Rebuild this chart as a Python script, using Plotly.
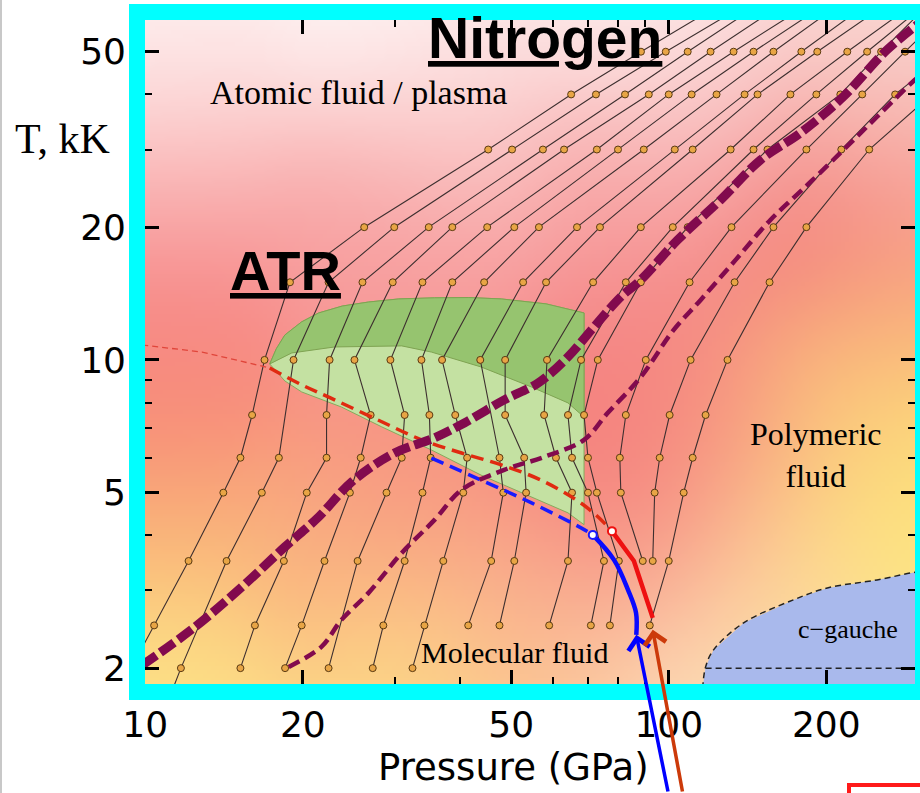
import math
import base64
import struct
import zlib

import numpy as np
import plotly.graph_objects as go

# ---------------------------------------------------------------- geometry
FIG_W, FIG_H = 920, 793
M_L, M_R, M_T, M_B = 145, 5, 20, 109
PLOT_W = FIG_W - M_L - M_R
PLOT_H = FIG_H - M_T - M_B

P_RANGE = (9.99, 295.4)      # GPa
T_RANGE = (1.841, 59.0)      # kK

# ---------------------------------------------------------------- data
# Simulated isochores: temperature (kK) and pressure (GPa) of each state point
ISO0_T = [62, 50, 40, 30, 20, 15, 10, 7.5, 6, 5, 3.5, 2.5, 2.0]
ISO0_P = [120, 88.5, 65.1, 45.2, 26.2, 18.9, 16.9, 16.0, 15.2, 14.1, 12.1, 10.4, 9.4]

ISO1_T = [62, 50, 40, 30, 20, 15, 10, 6, 5, 3.5, 2.0, 1.75]
ISO1_P = [134, 98.7, 72.6, 50.2, 29.9, 22.4, 19.2, 18.0, 16.7, 14.3, 11.7, 11.2]

ISO2_T = [62, 50, 40, 30, 20, 15, 10, 7.5, 6, 5, 3.5, 2.5, 2.0]
ISO2_P = [143, 108.7, 82.5, 57.5, 34.8, 26.0, 22.5, 22.2, 22.2, 20.35, 18.4, 16.2, 15.2]

ISO3_T = [62, 50, 40, 30, 20, 15, 10, 7.5, 6, 5, 3.5, 2.5, 2.0]
ISO3_P = [158, 120.2, 91.6, 63.1, 38.6, 29.7, 25.1, 26.95, 25.8, 24.6, 22.0, 19.9, 18.5]

ISO4_T = [62, 50, 40, 30, 20, 15, 10, 7.5, 6, 5, 3.5, 2.0]
ISO4_P = [177, 133, 100, 72.9, 45.0, 33.85, 29.4, 31.3, 30.9, 28.9, 25.45, 22.4]

ISO5_T = [62, 50, 40, 30, 20, 15, 10, 7.5, 6, 5, 3.5, 2.5, 2.0]
ISO5_P = [191, 145.2, 110.6, 80.0, 50.7, 38.6, 33.7, 34.9, 35.1, 33.85, 31.3, 28.5, 27.2]

ISO6_T = [62, 50, 40, 30, 20, 15, 10, 7.5, 6, 5, 3.5, 2.5, 2.0]
ISO6_P = [204, 158.5, 123.4, 89.6, 56.5, 44.4, 36.9, 39.1, 41.2, 40.5, 37.1, 34.15, 32.4]

ISO7_T = [62, 50, 40, 30, 20, 15, 10, 6, 5, 3.5, 2.5]
ISO7_P = [230, 179.2, 139.6, 102.7, 66.8, 52.7, 43.65, 47.5, 48.3, 45.8, 41.4]

ISO8_T = [62, 50, 40, 30, 20, 15, 10, 7.5, 6, 5, 3.5, 2.5]
ISO8_P = [250, 192.2, 147.8, 111.1, 73.9, 58.3, 48.7, 48.7, 52.95, 53.4, 50.7, 47.5]

ISO9_T = [62, 50, 40, 30, 20, 15, 10, 7.5, 6, 5, 3.5, 2.5]
ISO9_P = [282, 219.3, 170.8, 131.3, 88.45, 71.7, 58.55, 57.8, 60.9, 65.35, 64.2, 59.1]

ISO10_T = [62, 50, 40, 30, 20, 15, 10, 7.5, 6, 5, 3.5, 2.5]
ISO10_P = [299, 239.3, 191.4, 145.2, 101.8, 82.8, 68.0, 64.2, 65.35, 70.1, 75.2, 71.0]

ISO11_T = [62, 50, 40, 30, 20, 15, 10, 7.5, 6, 5, 3.5, 2.5]
ISO11_P = [305, 254.5, 212.7, 154.4, 108.7, 88.45, 73.2, 68.9, 70.1, 72.9, 80.3, 77.2]

ISO12_T = [62, 50, 40, 30, 20, 15, 10, 7.5, 6, 5, 3.5]
ISO12_P = [341, 282.8, 234.2, 183.2, 131.8, 109.6, 90.4, 82.8, 80.65, 81.0, 89.2]

ISO13_T = [50, 40, 30, 20, 15, 10, 7.5, 6, 5, 3.5]
ISO13_P = [343, 270.7, 213.6, 158.5, 133.6, 110.1, 100.4, 96.1, 94.0, 93.2]

ISO14_T = [40, 30, 20, 15, 10, 7.5, 6, 5, 3.5, 2.5]
ISO14_P = [318, 241.5, 183.2, 155.8, 129.5, 117.6, 111.1, 106.8, 100.0, 92.0]

ISOCHORES = [
    (ISO0_P, ISO0_T), (ISO1_P, ISO1_T), (ISO2_P, ISO2_T), (ISO3_P, ISO3_T),
    (ISO4_P, ISO4_T), (ISO5_P, ISO5_T), (ISO6_P, ISO6_T), (ISO7_P, ISO7_T),
    (ISO8_P, ISO8_T), (ISO9_P, ISO9_T), (ISO10_P, ISO10_T), (ISO11_P, ISO11_T),
    (ISO12_P, ISO12_T), (ISO13_P, ISO13_T), (ISO14_P, ISO14_T),
]

# ATR region (whole) and its upper cap
ATR_P = [17.29, 17.8, 18.48, 19.9, 21.45, 23.8, 26.7, 30.5, 35.68, 41.5, 47.9, 58.3,
         68.9, 68.9, 64.2, 54.7, 43.8, 35.2, 28.3, 23.7, 19.9, 18.48, 17.29]
ATR_T = [9.79, 10.6, 11.39, 12.2, 12.78, 13.25, 13.53, 13.75, 13.83, 13.85, 13.75, 13.40,
         12.78, 4.23, 4.50, 4.89, 5.48, 6.25, 7.05, 7.82, 8.46, 8.96, 9.79]
ATR_CAP_P = [17.29, 17.8, 18.48, 19.9, 21.45, 23.8, 26.7, 30.5, 35.68, 41.5, 47.9, 58.3,
             68.9, 68.9, 64.2, 54.7, 43.8, 35.2, 30.9, 23.0, 19.05, 17.29]
ATR_CAP_T = [9.79, 10.6, 11.39, 12.2, 12.78, 13.25, 13.53, 13.75, 13.83, 13.85, 13.75, 13.40,
             12.78, 7.42, 7.99, 8.68, 9.64, 10.42, 10.76, 10.70, 10.37, 9.79]

# c-gauche stability boundary
CG_P = [116.1, 117.6, 121.8, 139.0, 173.0, 200.9, 250.0, 295.4, 320.0]
CG_T = [1.80, 2.013, 2.20, 2.533, 2.856, 3.04, 3.17, 3.30, 3.33]
CG_FLOOR_T = 2.0

# Boundary curves
MAIN_P = [9.87, 12.45, 15.30, 18.48, 21.45, 24.8, 29.94, 35.68, 40.7, 48.5, 56.3,
          64.2, 71.97, 81.0, 88.45, 104.0, 125.6, 149.7, 178.4, 215.4, 261.3, 315.5]
MAIN_T = [2.03, 2.481, 3.057, 3.767, 4.406, 5.289, 6.153, 6.655, 7.197, 8.116, 8.867,
          10.16, 11.88, 13.9, 15.19, 18.71, 23.06, 28.41, 32.7, 39.5, 50.5, 60.6]

SECOND_P = [18.8, 21.7, 23.7, 26.7, 30.9, 35.7, 40.2, 48.5, 57.8, 68.9, 76.5, 88.45,
            102.2, 115.1, 134.2, 156.4, 184.0, 215.4, 250.0, 295.4, 329.6]
SECOND_T = [2.013, 2.235, 2.573, 2.963, 3.65, 4.337, 5.073, 5.63, 6.026, 6.587, 7.585,
            9.15, 11.7, 13.68, 16.86, 20.77, 24.93, 29.9, 35.6, 43.2, 48.4]

RED_EXT_P = [9.87, 12.84, 17.29]
RED_EXT_T = [10.81, 10.42, 9.59]
RED_DASH_P = [17.29, 19.9, 23.0, 28.3, 33.7, 40.2, 47.9, 57.0, 66.5, 72.6, 77.9]
RED_DASH_T = [9.59, 8.78, 8.12, 7.24, 6.59, 6.15, 5.78, 5.34, 4.82, 4.45, 4.09]
RED_SOLID_P = [77.9, 85.8, 93.2]
RED_SOLID_T = [4.09, 3.50, 2.60]

BLUE_DASH_P = [35.2, 43.8, 54.7, 68.0, 71.6]
BLUE_DASH_T = [5.99, 5.34, 4.74, 4.16, 4.01]
BLUE_SOLID_P = [71.6, 78.6, 83.6, 86.6, 86.7]
BLUE_SOLID_T = [4.01, 3.52, 3.01, 2.67, 2.38]

X_TICKS = [10, 20, 50, 100, 200]
X_MINOR = [30, 40, 60, 70, 80, 90, 300]
Y_TICKS = [2, 5, 10, 20, 50]
Y_MINOR = [3, 4, 6, 7, 8, 9, 30, 40]

# ---------------------------------------------------------------- background shading
# colour anchors (figure pixel x, y, rgb) blended with a gaussian kernel
BG_ANCHORS = [
    (150, 25, (255, 250, 250)), (400, 25, (255, 248, 248)), (650, 25, (253, 240, 240)),
    (900, 25, (250, 228, 226)), (160, 100, (252, 212, 212)), (450, 110, (251, 210, 210)),
    (700, 120, (250, 195, 195)), (900, 95, (249, 195, 190)),
    (160, 200, (249, 168, 168)), (400, 200, (249, 172, 172)),
    (620, 200, (248, 162, 162)), (800, 230, (242, 122, 122)), (900, 170, (247, 152, 142)),
    (160, 320, (247, 133, 133)), (400, 300, (247, 150, 150)), (650, 330, (245, 135, 135)),
    (890, 320, (250, 178, 125)), (160, 430, (248, 140, 118)), (400, 470, (247, 145, 130)),
    (620, 470, (244, 122, 122)), (700, 420, (245, 135, 128)), (800, 420, (251, 190, 125)),
    (900, 450, (252, 225, 120)), (160, 540, (250, 188, 122)), (350, 560, (250, 178, 128)),
    (520, 580, (249, 165, 138)), (640, 560, (246, 133, 133)), (740, 540, (252, 200, 150)),
    (880, 540, (253, 232, 130)), (160, 670, (253, 228, 135)), (400, 670, (253, 222, 135)),
    (560, 650, (252, 205, 150)), (680, 660, (253, 232, 200)), (780, 620, (253, 225, 160)),
]
BG_SIGMA = 75.0


def shading_png():
    nx, ny = PLOT_W // 4, PLOT_H // 4
    xs = M_L + (np.arange(nx) + 0.5) * PLOT_W / nx
    ys = M_T + (np.arange(ny) + 0.5) * PLOT_H / ny
    gx, gy = np.meshgrid(xs, ys)
    ax = np.array([a[0] for a in BG_ANCHORS], float)
    ay = np.array([a[1] for a in BG_ANCHORS], float)
    col = np.array([a[2] for a in BG_ANCHORS], float)
    d2 = (gx[..., None] - ax) ** 2 + (gy[..., None] - ay) ** 2
    w = np.exp(-d2 / (2 * BG_SIGMA ** 2)) + 1e-12
    rgb = (w[..., None] * col).sum(axis=2) / w.sum(axis=2)[..., None]
    rgb = np.clip(rgb, 0, 255).astype(np.uint8)
    raw = b"".join(b"\x00" + rgb[r].tobytes() for r in range(ny))

    def chunk(tag, data):
        body = tag + data
        return struct.pack(">I", len(data)) + body + struct.pack(">I", zlib.crc32(body) & 0xFFFFFFFF)

    png = (b"\x89PNG\r\n\x1a\n"
           + chunk(b"IHDR", struct.pack(">IIBBBBB", nx, ny, 8, 2, 0, 0, 0))
           + chunk(b"IDAT", zlib.compress(raw, 9))
           + chunk(b"IEND", b""))
    return "data:image/png;base64," + base64.b64encode(png).decode()


def px_x(px):
    return (px - M_L) / PLOT_W


def px_y(py):
    return (FIG_H - M_B - py) / PLOT_H


# ---------------------------------------------------------------- figure
fig = go.Figure()


def add_line(x, y, color, width, dash="solid", shape="linear"):
    fig.add_trace(go.Scatter(x=x, y=y, mode="lines", hoverinfo="skip", showlegend=False,
                             line=dict(color=color, width=width, dash=dash, shape=shape)))


# ATR region
fig.add_trace(go.Scatter(x=ATR_P, y=ATR_T, mode="lines", fill="toself", fillcolor="#c4e1a2",
                         line=dict(color="#86aa5c", width=1),
                         hoverinfo="skip", showlegend=False))
fig.add_trace(go.Scatter(x=ATR_CAP_P, y=ATR_CAP_T, mode="lines", fill="toself", fillcolor="#96c46f",
                         line=dict(color="#7fa352", width=1),
                         hoverinfo="skip", showlegend=False))

# c-gauche region
fig.add_trace(go.Scatter(x=CG_P + [CG_P[-1], CG_P[0]], y=CG_T + [1.7, 1.7], mode="lines",
                         fill="toself", fillcolor="#a9b9ec", line=dict(width=0),
                         hoverinfo="skip", showlegend=False))
add_line(CG_P, CG_T, "#222222", 1.5, "6px,4px", "spline")
add_line([CG_P[1], CG_P[-1]], [CG_FLOOR_T, CG_FLOOR_T], "#222222", 1.5, "6px,4px")

# isochores
for p_vals, t_vals in ISOCHORES:
    fig.add_trace(go.Scatter(
        x=p_vals, y=t_vals, mode="lines+markers", hoverinfo="skip", showlegend=False,
        line=dict(color="#3d2f2f", width=1.1),
        marker=dict(size=7, color="#e8a545", line=dict(color="#5a3a12", width=1)),
    ))

# transition lines
add_line(RED_EXT_P, RED_EXT_T, "#e0453a", 1.3, "6px,4px")
add_line(RED_DASH_P, RED_DASH_T, "#e02a10", 3.5, "13px,7px", "spline")
add_line(RED_SOLID_P, RED_SOLID_T, "#ee1111", 4.5)
add_line(BLUE_DASH_P, BLUE_DASH_T, "#1a1aff", 3.5, "13px,7px", "spline")
add_line(BLUE_SOLID_P, BLUE_SOLID_T, "#0a0aff", 4.5, "solid", "spline")
fig.add_trace(go.Scatter(x=[BLUE_SOLID_P[0], RED_SOLID_P[0]], y=[BLUE_SOLID_T[0], RED_SOLID_T[0]],
                         mode="markers", hoverinfo="skip", showlegend=False,
                         marker=dict(size=8, color="white",
                                     line=dict(color=["#1a1aff", "#ee1111"], width=2))))

add_line(SECOND_P, SECOND_T, "#820a4e", 4.5, "12px,6px", "spline")
add_line(MAIN_P, MAIN_T, "#820a4e", 9, "17px,5px", "spline")

# ---------------------------------------------------------------- layout
serif = "Liberation Serif"
sans_bold = "Liberation Sans"
annotations = [
    dict(text="<b><u>Nitrogen</u></b>", x=px_x(545), y=px_y(37.6), font=dict(family=sans_bold, size=57)),
    dict(text="<b><u>ATR</u></b>", x=px_x(285), y=px_y(270.6), font=dict(family=sans_bold, size=56)),
    dict(text="Atomic fluid / plasma", x=px_x(358), y=px_y(92), font=dict(family=serif, size=34)),
    dict(text="Polymeric<br>fluid", x=px_x(816), y=px_y(455), font=dict(family=serif, size=32)),
    dict(text="Molecular fluid", x=px_x(514), y=px_y(652), font=dict(family=serif, size=30)),
    dict(text="c\u2212gauche", x=px_x(848), y=px_y(629), font=dict(family=serif, size=26)),
    dict(text="T, kK", x=px_x(62), y=px_y(139), font=dict(family=serif, size=42)),
    dict(text="Pressure (GPa)", x=px_x(513), y=px_y(767), font=dict(family="DejaVu Sans", size=37)),
]
for a in annotations:
    a.update(xref="paper", yref="paper", showarrow=False, xanchor="center", yanchor="middle")
    a["font"]["color"] = "black"

# arrows pointing at the ends of the two transition lines
for p_end, t_end, color, dx, dy in [
    (BLUE_SOLID_P[-1], BLUE_SOLID_T[-1], "#0000ff", 32, 185),
    (RED_SOLID_P[-1], RED_SOLID_T[-1] * 0.94, "#cc3a0a", 30, 190),
]:
    annotations.append(dict(
        x=math.log10(p_end), y=math.log10(t_end), xref="x", yref="y", text="",
        showarrow=True, arrowhead=4, arrowsize=1.2, arrowwidth=3.5, arrowcolor=color,
        ax=dx, ay=dy, standoff=0,
    ))

shapes = [
    # cyan frame round the plotting area
    dict(type="rect", xref="paper", yref="paper",
         x0=px_x(137), x1=px_x(923), y0=px_y(692), y1=px_y(12),
         line=dict(color="#00ffff", width=16), fillcolor="rgba(0,0,0,0)", layer="above"),
    # red box at the lower right corner
    dict(type="rect", xref="paper", yref="paper",
         x0=px_x(849), x1=px_x(935), y0=px_y(840), y1=px_y(785),
         line=dict(color="#ff1a1a", width=4), fillcolor="rgba(0,0,0,0)", layer="above"),
    # thin grey rule at the left edge
    dict(type="line", xref="paper", yref="paper", x0=px_x(1), x1=px_x(1), y0=px_y(0), y1=px_y(793),
         line=dict(color="#c8c8c8", width=2), layer="above"),
]

tick_font = dict(family="DejaVu Sans", size=36, color="black")
common_axis = dict(
    type="log", showgrid=False, zeroline=False, showline=False,
    ticks="inside", ticklen=14, tickwidth=2.5, tickcolor="black", mirror="ticks",
    tickfont=tick_font,
)
fig.update_layout(
    width=FIG_W, height=FIG_H,
    margin=dict(l=M_L, r=M_R, t=M_T, b=M_B, pad=0),
    paper_bgcolor="white", plot_bgcolor="rgba(0,0,0,0)",
    xaxis=dict(common_axis, range=[math.log10(P_RANGE[0]), math.log10(P_RANGE[1])],
               tickvals=X_TICKS, ticktext=[str(v) for v in X_TICKS], ticklabelstandoff=16,
               minor=dict(tickvals=X_MINOR, ticks="inside", ticklen=7, tickwidth=2, tickcolor="black")),
    yaxis=dict(common_axis, range=[math.log10(T_RANGE[0]), math.log10(T_RANGE[1])],
               tickvals=Y_TICKS, ticktext=[str(v) for v in Y_TICKS], ticklabelstandoff=18,
               minor=dict(tickvals=Y_MINOR, ticks="inside", ticklen=7, tickwidth=2, tickcolor="black")),
    images=[dict(source=shading_png(), xref="paper", yref="paper", x=0, y=1, sizex=1, sizey=1,
                 sizing="stretch", xanchor="left", yanchor="top", layer="below")],
    annotations=annotations,
    shapes=shapes,
    showlegend=False,
)

fig.write_html("out.html")
